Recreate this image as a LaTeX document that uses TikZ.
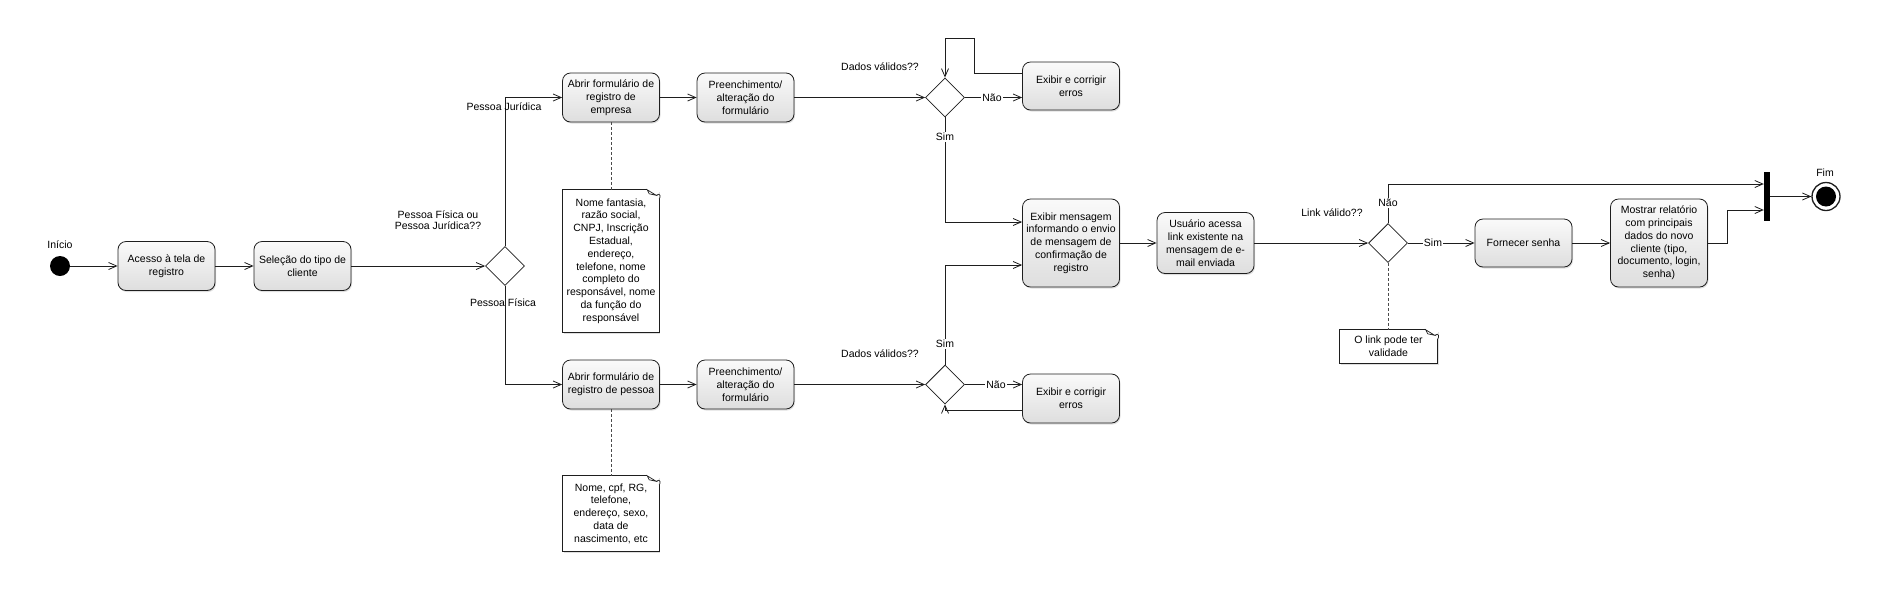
\documentclass[tikz,border=0pt]{standalone}
\usepackage{fontspec}
\setmainfont{Liberation Sans}
\usetikzlibrary{arrows.meta,shapes.geometric,shadows,calc}
\definecolor{boxtop}{RGB}{250,250,250}
\definecolor{boxbot}{RGB}{222,222,222}
\definecolor{ln}{RGB}{30,30,30}
\newcommand{\mynote}[1]{%
  \draw[ln, line width=0.8pt] ($(#1.north east)+(-12,0)$) -- (#1.north west) -- (#1.south west) -- (#1.south east) -- ($(#1.north east)+(0,9)$);
  \draw[ln, line width=0.7pt, fill=white] ($(#1.north east)+(-12,0)$) -- ($(#1.north east)+(-3,5.5)$) -- ($(#1.north east)+(-10,4)$) -- cycle;
  \draw[ln, line width=0.7pt] ($(#1.north east)+(-3,5.5)$) .. controls ($(#1.north east)+(1.5,2)$) and ($(#1.north east)+(1.5,8)$) .. ($(#1.north east)+(0,9)$);
}
\begin{document}
\begin{tikzpicture}[x=1pt,y=-1pt,
  every node/.style={font=\fontsize{10.5}{12.8}\selectfont},
  act/.style={draw=ln, line width=0.8pt, rounded corners=8pt, align=center,
    minimum width=97pt, inner sep=2pt, top color=boxtop, bottom color=boxbot,
    drop shadow={shadow xshift=1pt,shadow yshift=-1.5pt,opacity=0.25}},
  dec/.style={diamond, draw=ln, fill=white, line width=0.8pt, minimum width=39pt,
    minimum height=39pt, inner sep=0pt},
  flow/.style={draw=ln, line width=0.8pt, -{Straight Barb[length=8pt,width=7pt]}},
  notelink/.style={draw=ln!80, line width=0.8pt, dash pattern=on 3pt off 2pt},
  notebody/.style={fill=white, align=center, inner sep=2pt, minimum width=96pt,
    drop shadow={shadow xshift=1pt,shadow yshift=-1.5pt,opacity=0.25}},
  lblw/.style={fill=white, inner sep=1pt},
]
\useasboundingbox (0,0) rectangle (1882,590);

% nodes
\node[circle, fill=black, minimum size=20pt, inner sep=0pt] (start) at (60,266) {};
\node[act, minimum height=49pt] (acc) at (166.5,266) {Acesso à tela de\\registro};
\node[act, minimum height=49pt] (sel) at (302.5,266) {Seleção do tipo de\\cliente};
\node[dec] (d1) at (505,266) {};
\node[act, minimum height=49pt] (emp) at (611,97.5) {Abrir formulário de\\registro de\\empresa};
\node[act, minimum height=49pt] (pre1) at (745.5,97.5) {Preenchimento/\\alteração do\\formulário};
\node[dec] (d2) at (945,97.5) {};
\node[act, minimum height=48pt] (err1) at (1071,86) {Exibir e corrigir\\erros};
\node[act, minimum height=49pt] (pes) at (611,384.5) {Abrir formulário de\\registro de pessoa};
\node[act, minimum height=49pt] (pre2) at (745.5,384.5) {Preenchimento/\\alteração do\\formulário};
\node[dec] (d3) at (945,384.5) {};
\node[act, minimum height=49pt] (err2) at (1071,398.5) {Exibir e corrigir\\erros};
\node[act, minimum height=88pt] (msg) at (1071,243) {Exibir mensagem\\informando o envio\\de mensagem de\\confirmação de\\registro};
\node[act, minimum height=61pt] (usr) at (1205.5,243) {Usuário acessa\\link existente na\\mensagem de e-\\mail enviada};
\node[dec] (d4) at (1388,243) {};
\node[act, minimum height=48pt] (forn) at (1523.5,243) {Fornecer senha};
\node[act, minimum height=88pt] (most) at (1659,243) {Mostrar relatório\\com principais\\dados do novo\\cliente (tipo,\\documento, login,\\senha)};
\node[fill=black, minimum width=6pt, minimum height=49pt, inner sep=0pt] (bar) at (1767,196.5) {};
\node[circle, draw=ln, line width=1.3pt, fill=white, minimum size=28pt, inner sep=0pt] (fim) at (1826,196.5) {};
\node[circle, fill=black, minimum size=20pt, inner sep=0pt] (fimin) at (fim) {};

% notes
\node[notebody, minimum height=142pt] (n1) at (611,261) {Nome fantasia,\\razão social,\\CNPJ, Inscrição\\Estadual,\\endereço,\\telefone, nome\\completo do\\responsável, nome\\da função do\\responsável};
\node[notebody, minimum height=75pt] (n2) at (611,513.5) {Nome, cpf, RG,\\telefone,\\endereço, sexo,\\data de\\nascimento, etc};
\node[notebody, minimum height=33pt, minimum width=98pt] (n3) at (1388.5,346.5) {O link pode ter\\validade};
\mynote{n1}
\mynote{n2}
\mynote{n3}

% connectors
\draw[flow] (start) -- (acc);
\draw[flow] (acc) -- (sel);
\draw[flow] (sel.east) -- (d1.west);
\draw[flow] (d1.north) |- (emp.west);
\draw[flow] (d1.south) |- (pes.west);
\draw[flow] (emp) -- (pre1);
\draw[flow] (pes) -- (pre2);
\draw[flow] (pre1.east) -- (d2.west);
\draw[flow] (pre2.east) -- (d3.west);
\draw[flow] (d2.east) -- (d2.east -| err1.west);
\draw[flow] ($(err1.west)+(0,-13)$) -| (974,38) -| (d2.north);
\draw[flow] (d2.south) |- ($(msg.west)+(0,-21)$);
\draw[flow] (d3.north) |- ($(msg.west)+(0,22)$);
\draw[flow] (d3.east) -- (d3.east -| err2.west);
\draw[flow] ($(err2.west)+(0,11.5)$) -| (d3.south);
\draw[flow] (msg.east) -- (usr.west);
\draw[flow] (usr.east) -- (d4.west);
\draw[flow] (d4.east) -- (forn.west);
\draw[flow] (d4.north) |- ($(bar.west)+(0,-12.5)$);
\draw[flow] (forn) -- (most);
\draw[flow] (most.east) -- (1727,243) |- ($(bar.west)+(0,13.5)$);
\draw[flow] (bar.east) -- (fim);
\draw[notelink] (emp.south) -- (n1.north);
\draw[notelink] (pes.south) -- (n2.north);
\draw[notelink] (d4.south) -- (d4.south |- n3.north);

% labels
\node at (60,245) {Início};
\node[align=center, font=\fontsize{10.5}{11.5}\selectfont] at (438,220) {Pessoa Física ou\\Pessoa Jurídica??};
\node at (504,107) {Pessoa Jurídica};
\node at (503,303) {Pessoa Física};
\node at (880,67) {Dados válidos??};
\node at (880,354) {Dados válidos??};
\node at (1332,213) {Link válido??};
\node at (1825,173) {Fim};
\node[lblw] at (992,97.5) {Não};
\node[lblw] at (996,384.5) {Não};
\node[lblw] at (945,137) {Sim};
\node[lblw] at (945,344) {Sim};
\node[lblw] at (1433,243) {Sim};
\node[lblw] at (1388,203) {Não};
\end{tikzpicture}
\end{document}
